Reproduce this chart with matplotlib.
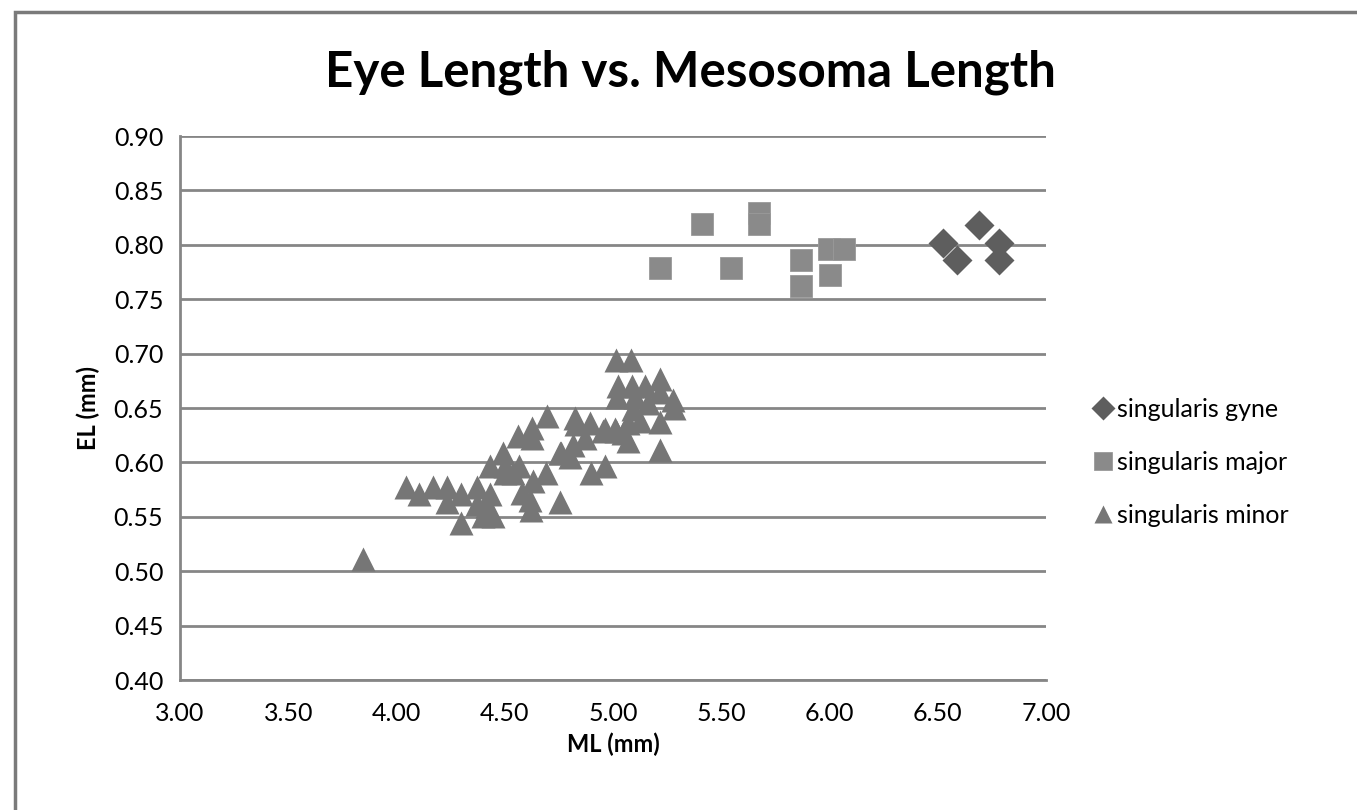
"""Eye length vs. mesosoma length scatter (Excel-style grey chart)."""

import matplotlib

matplotlib.use("Agg")

import matplotlib.pyplot as plt
from matplotlib.patches import Rectangle

plt.rcParams["font.family"] = ["Lato", "DejaVu Sans"]

# --- data ---
gyne_ml = [6.523, 6.589, 6.689, 6.782, 6.782]
gyne_el = [0.802, 0.786, 0.818, 0.802, 0.786]

major_ml = [5.411, 5.673, 5.673, 5.217, 5.545, 5.870, 5.870, 6.000, 6.068, 6.002]
major_el = [0.819, 0.829, 0.819, 0.779, 0.779, 0.786, 0.762, 0.796, 0.796, 0.772]

minor_ml = [
    3.845, 4.044, 4.106, 4.170, 4.235, 4.235, 4.300, 4.300, 4.370, 4.370,
    4.400, 4.432, 4.447, 4.420, 4.432, 4.494, 4.501, 4.563, 4.566, 4.624,
    4.624, 4.630, 4.617, 4.620, 4.690, 4.693, 4.755, 4.755, 4.762, 4.817,
    4.824, 4.830, 4.894, 4.900, 4.955, 4.963, 4.963, 5.009, 5.016, 5.047,
    5.070, 5.070, 5.094, 5.125, 5.016, 5.085, 5.025, 5.086, 5.148, 5.217,
    5.020, 5.100, 5.160, 5.279, 5.280, 5.217, 5.217, 5.217, 4.580, 4.540,
    4.500, 4.870, 4.800,
]
minor_el = [
    0.511, 0.577, 0.571, 0.577, 0.577, 0.564, 0.571, 0.544, 0.577, 0.562,
    0.551, 0.571, 0.551, 0.560, 0.597, 0.609, 0.597, 0.624, 0.597, 0.622,
    0.632, 0.583, 0.565, 0.556, 0.590, 0.643, 0.564, 0.609, 0.609, 0.616,
    0.641, 0.635, 0.636, 0.590, 0.629, 0.597, 0.631, 0.631, 0.629, 0.627,
    0.620, 0.636, 0.649, 0.638, 0.694, 0.694, 0.670, 0.670, 0.670, 0.677,
    0.660, 0.660, 0.655, 0.657, 0.650, 0.637, 0.611, 0.665, 0.572, 0.590,
    0.590, 0.622, 0.605,
]

series_labels = ["singularis gyne", "singularis major", "singularis minor"]
x_ticks = [3.0, 3.5, 4.0, 4.5, 5.0, 5.5, 6.0, 6.5, 7.0]
y_ticks = [0.40, 0.45, 0.50, 0.55, 0.60, 0.65, 0.70, 0.75, 0.80, 0.85, 0.90]

GRID = "#868686"

fig = plt.figure(figsize=(13.57, 8.10), dpi=100)
ax = fig.add_axes([180 / 1357, 1 - 680 / 810, 866 / 1357, 544 / 810])

ax.plot(gyne_ml, gyne_el, "D", ms=15, color="#5e5e5e", mec="none",
        label=series_labels[0], zorder=3)
ax.plot(major_ml, major_el, "s", ms=16.5, color="#8a8a8a", mec="#9a9a9a",
        mew=0.6, label=series_labels[1], zorder=3)
ax.plot(minor_ml, minor_el, "^", ms=17, color="#767676", mec="none",
        label=series_labels[2], zorder=3)

ax.set_xlim(3.0, 7.0)
ax.set_ylim(0.40, 0.90)
ax.set_xticks(x_ticks)
ax.set_yticks(y_ticks)
ax.set_xticklabels([f"{v:.2f}" for v in x_ticks])
ax.set_yticklabels([f"{v:.2f}" for v in y_ticks])
ax.tick_params(length=0, labelsize=18, pad=12)
ax.tick_params(axis="x", pad=16)

ax.yaxis.grid(True, color=GRID, lw=2)
ax.set_axisbelow(True)
for side in ("top", "right"):
    ax.spines[side].set_visible(False)
for side in ("left", "bottom"):
    ax.spines[side].set_color(GRID)
    ax.spines[side].set_linewidth(2)

ax.set_xlabel("ML (mm)", fontsize=17, fontweight="bold", labelpad=5)
ax.set_ylabel("EL (mm)", fontsize=17, fontweight="bold", labelpad=10)

fig.text(690 / 1357, 1 - 72 / 810, "Eye Length vs. Mesosoma Length",
         ha="center", va="center", fontsize=35.5, fontweight="bold")

ax.legend(loc="center left", bbox_to_anchor=(1.03, 0.40), frameon=False,
          fontsize=18, labelspacing=1.2, handlelength=0.7,
          handletextpad=0.2, markerscale=0.8)

# chart border (runs off the right and bottom edges in the reference)
fig.patches.append(Rectangle((15 / 1357, -0.05), 1.1, 1 - 12 / 810 + 0.05,
                             transform=fig.transFigure, fill=False,
                             ec="#7a7a7a", lw=2.5))

fig.savefig("out.png", dpi=100)
